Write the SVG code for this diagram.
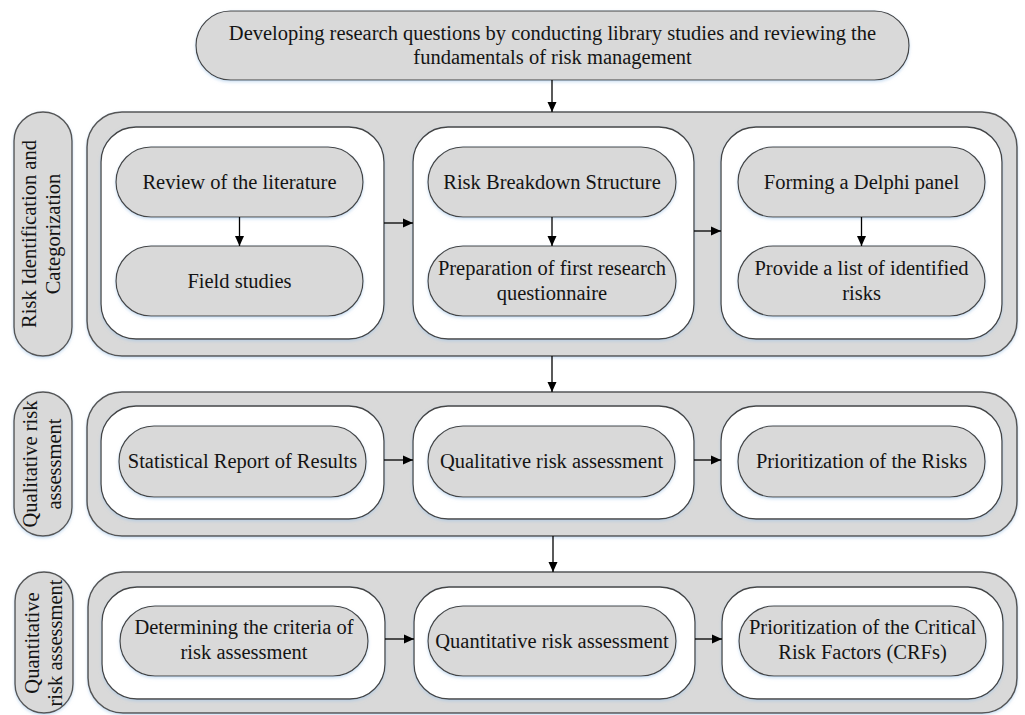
<svg xmlns="http://www.w3.org/2000/svg" width="1025" height="715" viewBox="0 0 1025 715">
  <defs>
    <filter id="glow" x="-5%" y="-10%" width="110%" height="125%">
      <feDropShadow dx="0" dy="1.5" stdDeviation="1.8" flood-color="#9fc2e6" flood-opacity="0.55"/>
    </filter>
    <marker id="ah" viewBox="0 0 10 10" refX="10" refY="5" markerWidth="10" markerHeight="10" markerUnits="userSpaceOnUse" orient="auto">
      <path d="M0,0.5 L10,5 L0,9.5 z" fill="#000"/>
    </marker>
    <style>
      .band { fill: #d9d9d9; stroke: #555; stroke-width: 1.5; filter: url(#glow); }
      .side { fill: #d9d9d9; stroke: #555; stroke-width: 1.4; filter: url(#glow); }
      .panel { fill: #ffffff; stroke: #444; stroke-width: 1.3; filter: url(#glow); }
      .node { fill: #d9d9d9; stroke: #444; stroke-width: 1.2; filter: url(#glow); }
      text { font-family: "Liberation Serif", "Times New Roman", serif; font-size: 20.5px; fill: #141414; text-anchor: middle; }
      .edge { stroke: #000; stroke-width: 1.3; fill: none; marker-end: url(#ah); }
    </style>
  </defs>

  <!-- starting step -->
  <g id="start">
    <rect class="node" x="196" y="11" width="713" height="69" rx="34.5"/>
    <text x="552.5" y="40">Developing research questions by conducting library studies and reviewing the</text>
    <text x="552.5" y="64">fundamentals of risk management</text>
  </g>

  <!-- stage 1: identification -->
  <g id="stage1">
    <rect class="band" x="87" y="112" width="930" height="244" rx="35"/>
    <rect class="side" x="14" y="112" width="58" height="244" rx="29"/>
    <text transform="translate(0,234) rotate(-90)"><tspan x="0" y="36">Risk Identification and</tspan><tspan x="0" y="60">Categorization</tspan></text>
    <rect class="panel" x="101" y="127" width="283" height="212" rx="35"/>
    <rect class="panel" x="413" y="127" width="281" height="212" rx="35"/>
    <rect class="panel" x="721" y="127" width="281" height="212" rx="35"/>
  </g>
  <g id="n-literature">
    <rect class="node" x="116" y="147" width="247" height="70" rx="35"/>
    <text x="239.5" y="188.5">Review of the literature</text>
  </g>
  <g id="n-field">
    <rect class="node" x="116" y="246" width="247" height="70" rx="35"/>
    <text x="239.5" y="287.5">Field studies</text>
  </g>
  <g id="n-rbs">
    <rect class="node" x="428" y="147" width="248" height="70" rx="35"/>
    <text x="552" y="188.5">Risk Breakdown Structure</text>
  </g>
  <g id="n-questionnaire">
    <rect class="node" x="428" y="246" width="248" height="70" rx="35"/>
    <text x="552" y="275">Preparation of first research</text>
    <text x="552" y="300">questionnaire</text>
  </g>
  <g id="n-delphi">
    <rect class="node" x="738" y="147" width="247" height="70" rx="35"/>
    <text x="861.5" y="188.5">Forming a Delphi panel</text>
  </g>
  <g id="n-risklist">
    <rect class="node" x="738" y="246" width="247" height="70" rx="35"/>
    <text x="861.5" y="275">Provide a list of identified</text>
    <text x="861.5" y="300">risks</text>
  </g>

  <!-- stage 2: qualitative -->
  <g id="stage2">
    <rect class="band" x="87" y="392" width="930" height="144" rx="35"/>
    <rect class="side" x="14" y="392" width="58" height="144" rx="29"/>
    <text transform="translate(0,464) rotate(-90)"><tspan x="0" y="37">Qualitative risk</tspan><tspan x="0" y="61">assessment</tspan></text>
    <rect class="panel" x="101" y="406" width="283" height="113" rx="35"/>
    <rect class="panel" x="413" y="406" width="281" height="113" rx="35"/>
    <rect class="panel" x="721" y="406" width="281" height="113" rx="35"/>
  </g>
  <g id="n-stats">
    <rect class="node" x="119" y="426" width="247" height="71" rx="35"/>
    <text x="242.5" y="468">Statistical Report of Results</text>
  </g>
  <g id="n-qualitative">
    <rect class="node" x="428" y="426" width="247" height="71" rx="35"/>
    <text x="551.5" y="468">Qualitative risk assessment</text>
  </g>
  <g id="n-prioritize">
    <rect class="node" x="738" y="426" width="247" height="71" rx="35"/>
    <text x="861.5" y="468">Prioritization of the Risks</text>
  </g>

  <!-- stage 3: quantitative -->
  <g id="stage3">
    <rect class="band" x="88" y="572" width="929" height="141" rx="35"/>
    <rect class="side" x="15" y="572" width="58" height="141" rx="29"/>
    <text transform="translate(0,643) rotate(-90)"><tspan x="0" y="39">Quantitative</tspan><tspan x="0" y="62">risk assessment</tspan></text>
    <rect class="panel" x="102" y="587" width="283" height="112" rx="35"/>
    <rect class="panel" x="414" y="587" width="281" height="112" rx="35"/>
    <rect class="panel" x="722" y="587" width="281" height="112" rx="35"/>
  </g>
  <g id="n-criteria">
    <rect class="node" x="120" y="606" width="248" height="70" rx="35"/>
    <text x="244" y="634">Determining the criteria of</text>
    <text x="244" y="659">risk assessment</text>
  </g>
  <g id="n-quantitative">
    <rect class="node" x="428" y="606" width="248" height="70" rx="35"/>
    <text x="552" y="647.5">Quantitative risk assessment</text>
  </g>
  <g id="n-crf">
    <rect class="node" x="739" y="606" width="247" height="70" rx="35"/>
    <text x="862.5" y="634">Prioritization of the Critical</text>
    <text x="862.5" y="659">Risk Factors (CRFs)</text>
  </g>

  <!-- connectors -->
  <g id="connectors">
    <line class="edge" x1="552" y1="80" x2="552" y2="112"/>
    <line class="edge" x1="239.5" y1="217" x2="239.5" y2="246"/>
    <line class="edge" x1="552" y1="217" x2="552" y2="246"/>
    <line class="edge" x1="861.5" y1="217" x2="861.5" y2="246"/>
    <line class="edge" x1="384" y1="223" x2="413" y2="223"/>
    <line class="edge" x1="694" y1="231" x2="721" y2="231"/>
    <line class="edge" x1="552" y1="356" x2="552" y2="392"/>
    <line class="edge" x1="384" y1="460" x2="413" y2="460"/>
    <line class="edge" x1="694" y1="460" x2="721" y2="460"/>
    <line class="edge" x1="553" y1="536" x2="553" y2="572"/>
    <line class="edge" x1="385" y1="639" x2="414" y2="639"/>
    <line class="edge" x1="695" y1="639" x2="722" y2="639"/>
  </g>
</svg>
